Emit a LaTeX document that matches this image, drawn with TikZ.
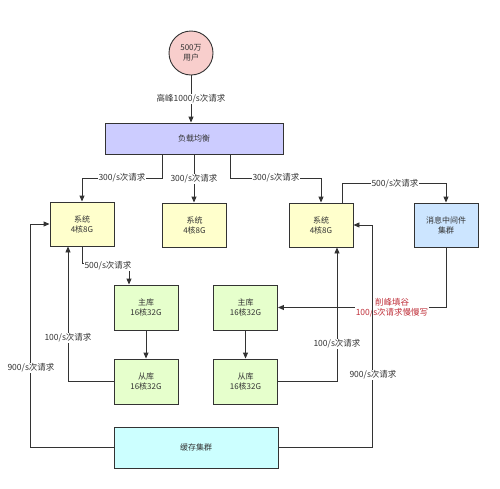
\documentclass[tikz,border=0pt]{standalone}
\usepackage{fontspec}
\setmainfont{Noto Sans CJK SC}
\usetikzlibrary{arrows.meta}
\definecolor{ln}{HTML}{333333}
\definecolor{pinkf}{HTML}{F8CECC}
\definecolor{lavf}{HTML}{CCCCFF}
\definecolor{yelf}{HTML}{FFFFCC}
\definecolor{bluef}{HTML}{CCE5FF}
\definecolor{grnf}{HTML}{E6FFCC}
\definecolor{cyanf}{HTML}{CCFFFF}
\definecolor{redt}{HTML}{C0303A}
\tikzset{
  box/.style={draw=ln, line width=0.9pt, align=center, font=\fontsize{8}{10}\selectfont, text=ln, inner sep=1pt},
  sysbox/.style={box, fill=yelf, minimum width=64pt, minimum height=44pt},
  dbbox/.style={box, fill=grnf, minimum width=64pt, minimum height=45pt},
  arr/.style={draw=ln, line width=0.9pt, -{Triangle[length=6pt,width=5pt]}},
  lbl/.style={fill=white, font=\fontsize{8.5}{10}\selectfont, text=ln, inner sep=0.8pt, align=center},
}
\begin{document}
\begin{tikzpicture}[x=1pt,y=-1pt]
\useasboundingbox[fill=white] (0,0) rectangle (500,488);
% nodes
\node[box, circle, fill=pinkf, minimum size=44pt] (users) at (191,53) {500万\\用户};
\node[box, fill=lavf, minimum width=178pt, minimum height=31pt] (lb) at (194,138.5) {负载均衡};
\node[sysbox] (sys1) at (82,224) {系统\\4核8G};
\node[sysbox] (sys2) at (194.5,225) {系统\\4核8G};
\node[sysbox] (sys3) at (321,225) {系统\\4核8G};
\node[box, fill=bluef, minimum width=64pt, minimum height=44pt] (mq) at (446,225) {消息中间件\\集群};
\node[dbbox] (m1) at (146,307.5) {主库\\16核32G};
\node[dbbox] (s1) at (146,381.5) {从库\\16核32G};
\node[dbbox] (m2) at (245.5,307.5) {主库\\16核32G};
\node[dbbox] (s2) at (245.5,381.5) {从库\\16核32G};
\node[box, fill=cyanf, minimum width=164pt, minimum height=41pt] (cache) at (196,447.5) {缓存集群};
% connectors
\draw[arr] (users.south) -- (users.south |- lb.north) node[lbl, midway] (l0) {高峰1000/s次请求};
\draw[arr] ([xshift=-32pt]lb.south) -- ++(0,24) coordinate (c1) -| (sys1.north);
\node[lbl] (l1) at (122,178) {300/s次请求};
\draw[arr] (lb.south) -- (lb.south |- sys2.north);
\node[lbl] (l2) at (194,179) {300/s次请求};
\draw[arr] ([xshift=36pt]lb.south) -- ++(0,24) -| (sys3.north);
\node[lbl] (l3) at (276,178) {300/s次请求};
\draw[arr] ([xshift=21pt]sys3.north) -- ++(0,-19) -| (mq.north);
\node[lbl] (l4) at (395,184) {500/s次请求};
\draw[arr] (sys1.south) -- ++(0,17) -| ([xshift=-17pt]m1.north);
\node[lbl] (l5) at (108,266) {500/s次请求};
\draw[arr] (m1) -- (s1);
\draw[arr] (m2) -- (s2);
\draw[arr] (s1.west) -| ([xshift=-14pt]sys1.south);
\node[lbl] (l6) at (68,338) {100/s次请求};
\draw[arr] (s2.east) -| ([xshift=16pt]sys3.south);
\node[lbl] (l7) at (337,344) {100/s次请求};
\draw[arr] (mq.south) |- (m2.east);
\node[lbl, text=redt] (l8) at (392,308) {削峰填谷\\100/s次请求慢慢写};
\draw[arr] (cache.west) -- ++(-83,0) |- (sys1.west);
\node[lbl] (l9) at (31,368) {900/s次请求};
\draw[arr] (cache.east) -- ++(94,0) |- (sys3.east);
\node[lbl] (l10) at (373,375) {900/s次请求};
\end{tikzpicture}
\end{document}
